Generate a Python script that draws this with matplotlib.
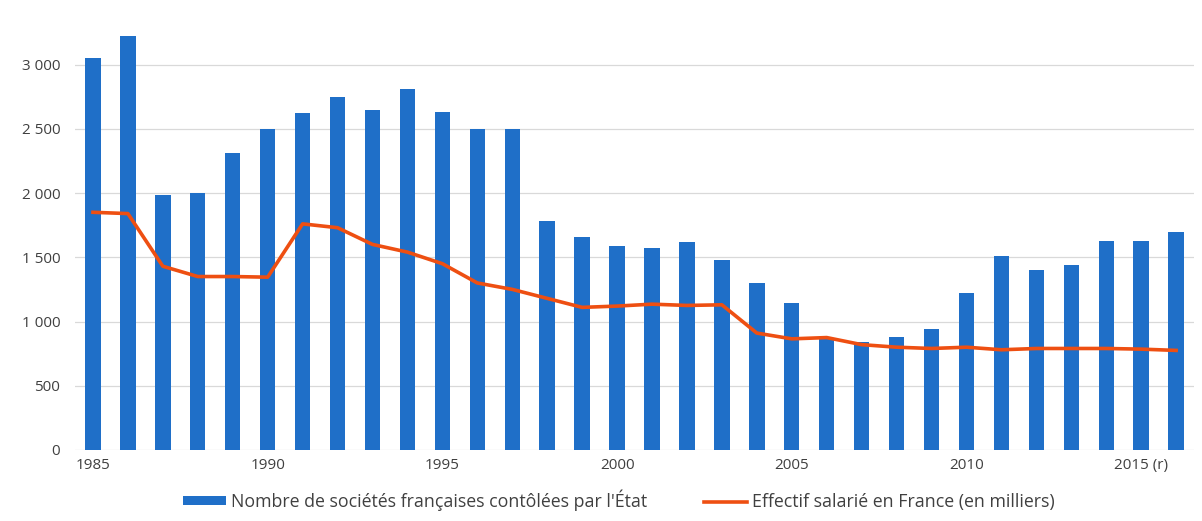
import numpy as np
import matplotlib.pyplot as plt
from matplotlib.ticker import FuncFormatter

# Années et séries
annees = list(range(1985, 2017))
nb_societes = [3050, 3220, 1985, 2000, 2310, 2500, 2620, 2750, 2650, 2810,
               2630, 2500, 2500, 1780, 1660, 1590, 1570, 1620, 1480, 1300,
               1145, 865, 840, 880, 940, 1225, 1510, 1400, 1440, 1630,
               1630, 1700]
effectif = [1850, 1840, 1430, 1350, 1350, 1345, 1760, 1730, 1600, 1540,
            1450, 1300, 1250, 1180, 1110, 1120, 1135, 1125, 1130, 910,
            865, 875, 820, 800, 790, 800, 780, 790, 790, 790,
            785, 775]
labels_x = {1985: '1985', 1990: '1990', 1995: '1995', 2000: '2000',
            2005: '2005', 2010: '2010', 2015: '2015 (r)'}

BLEU = '#1f6fc8'
ORANGE = '#ee4f12'
GRIS_TEXTE = '#404040'

plt.rcParams['font.family'] = ['Open Sans', 'DejaVu Sans']

fig = plt.figure(figsize=(12.02, 5.21), dpi=100)
ax = fig.add_axes([0.0628, 0.1363, 0.9302, 0.8138])

x = np.arange(len(annees))
barres = ax.bar(x, nb_societes, width=0.44, color=BLEU, zorder=2,
                label="Nombre de sociétés françaises contôlées par l'État")
ligne, = ax.plot(x, effectif, color=ORANGE, linewidth=2.6, zorder=3,
                 solid_joinstyle='round',
                 label='Effectif salarié en France (en milliers)')

ax.set_xlim(-0.5, len(annees) - 0.5)
ax.set_ylim(0, 3300)
ax.set_yticks(range(0, 3001, 500))
ax.yaxis.set_major_formatter(FuncFormatter(lambda v, p: f'{int(v):,}'.replace(',', ' ')))
ax.grid(axis='y', color='#d9d9d9', linewidth=0.9, zorder=0)

ticks = [annees.index(a) for a in labels_x]
ax.set_xticks(ticks)
ax.set_xticklabels(list(labels_x.values()))
ax.tick_params(axis='both', length=0, labelsize=11, colors=GRIS_TEXTE)
ax.tick_params(axis='y', pad=11)
ax.tick_params(axis='x', pad=6)

for s in ax.spines.values():
    s.set_visible(False)

fig.legend(handles=[barres, ligne], loc='center', bbox_to_anchor=(0.515, 0.04),
           ncol=2, frameon=False, fontsize=12.8, handlelength=2.4,
           handleheight=0.33, handletextpad=0.3, columnspacing=3.2,
           labelcolor=GRIS_TEXTE)

fig.savefig('out.png', dpi=100)
